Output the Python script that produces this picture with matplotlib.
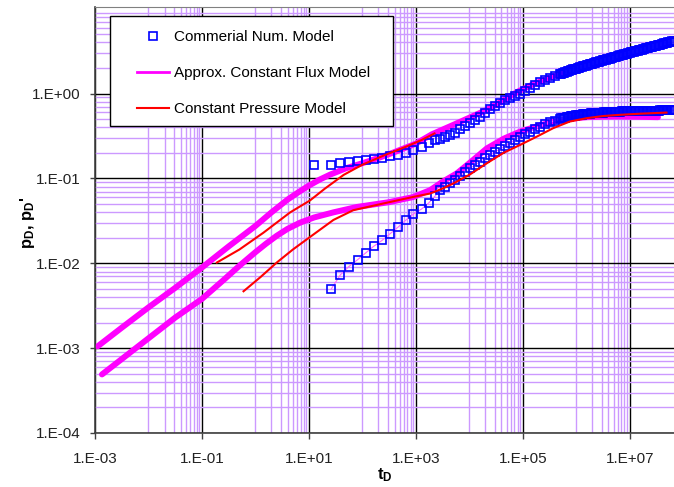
import numpy as np
import matplotlib
matplotlib.use("Agg")
import matplotlib.pyplot as plt
from matplotlib.lines import Line2D
from matplotlib.patches import Rectangle
from matplotlib.ticker import NullFormatter

plt.rcParams['font.family'] = ['Liberation Sans', 'DejaVu Sans']
plt.rcParams['mathtext.default'] = 'regular'

# commercial simulator output: pD and its derivative share the time steps
t_num = [12.6, 26.3, 38.9, 56.2, 81.3, 115, 162, 234, 331, 468,
         646, 891, 1290, 1740, 2290, 2820, 3550, 4370, 5370, 6760,
         8320, 1.02e4, 1.29e4, 1.58e4, 1.95e4, 2.45e4, 3.02e4, 3.72e4, 4.68e4, 5.75e4,
         7.08e4, 8.91e4, 1.10e5, 1.35e5, 1.70e5, 2.09e5, 2.57e5, 3.24e5, 3.98e5, 5.01e5,
         5.31e5, 5.62e5, 5.96e5, 6.31e5, 6.68e5, 7.08e5, 7.50e5, 7.94e5, 8.41e5, 8.91e5, 9.44e5,
         1.00e6, 1.06e6, 1.12e6, 1.19e6, 1.26e6, 1.33e6, 1.41e6, 1.50e6, 1.58e6, 1.68e6,
         1.78e6, 1.88e6, 2.00e6, 2.11e6, 2.24e6, 2.37e6, 2.51e6, 2.66e6, 2.82e6, 2.99e6,
         3.16e6, 3.35e6, 3.55e6, 3.76e6, 3.98e6, 4.22e6, 4.47e6, 4.73e6, 5.01e6, 5.31e6,
         5.62e6, 5.96e6, 6.31e6, 6.68e6, 7.08e6, 7.50e6, 7.94e6, 8.41e6, 8.91e6, 9.44e6,
         1.00e7, 1.06e7, 1.12e7, 1.19e7, 1.26e7, 1.33e7, 1.41e7, 1.50e7, 1.58e7, 1.68e7,
         1.78e7, 1.88e7, 2.00e7, 2.11e7, 2.24e7, 2.37e7, 2.51e7, 2.66e7, 2.82e7, 2.99e7,
         3.16e7, 3.35e7, 3.55e7, 3.76e7, 3.98e7, 4.22e7, 4.47e7, 4.73e7, 5.01e7, 5.31e7,
         5.62e7, 5.96e7, 6.31e7, 6.68e7]
pd_num = [0.143, 0.144, 0.151, 0.155, 0.159, 0.164, 0.168, 0.173, 0.182, 0.190,
          0.201, 0.216, 0.236, 0.259, 0.284, 0.295, 0.306, 0.324, 0.347, 0.380,
          0.412, 0.447, 0.490, 0.531, 0.589, 0.653, 0.708, 0.771, 0.832, 0.891,
          0.944, 1.00, 1.07, 1.16, 1.26, 1.35, 1.43, 1.51, 1.60, 1.70,
          1.720, 1.742, 1.764, 1.786, 1.809, 1.832, 1.856, 1.879, 1.903, 1.923, 1.948,
          1.972, 1.994, 2.016, 2.038, 2.061, 2.084, 2.106, 2.130, 2.153, 2.177,
          2.200, 2.225, 2.249, 2.274, 2.298, 2.324, 2.350, 2.375, 2.401, 2.428,
          2.455, 2.480, 2.506, 2.532, 2.559, 2.585, 2.612, 2.640, 2.667, 2.695,
          2.723, 2.751, 2.780, 2.809, 2.838, 2.868, 2.897, 2.928, 2.958, 2.989,
          3.020, 3.050, 3.080, 3.110, 3.141, 3.172, 3.203, 3.234, 3.266, 3.298,
          3.330, 3.363, 3.396, 3.429, 3.463, 3.497, 3.532, 3.567, 3.602, 3.637,
          3.673, 3.709, 3.745, 3.782, 3.819, 3.857, 3.894, 3.933, 3.972, 4.011,
          4.050, 4.090, 4.130, 4.171]
dpd_num = [np.nan, 0.00499, 0.00731, 0.00916, 0.0110, 0.0132, 0.0158, 0.0186, 0.0223, 0.0267,
           0.0321, 0.0378, 0.0437, 0.0513, 0.0618, 0.0724, 0.0796, 0.0873, 0.0955, 0.106,
           0.120, 0.131, 0.144, 0.157, 0.173, 0.189, 0.207, 0.220, 0.241, 0.259,
           0.284, 0.311, 0.332, 0.356, 0.383, 0.408, 0.436, 0.460, 0.481, 0.504,
           0.509, 0.513, 0.517, 0.521, 0.526, 0.530, 0.534, 0.537, 0.541, 0.545, 0.549,
           0.552, 0.555, 0.559, 0.562, 0.565, 0.568, 0.570, 0.573, 0.575, 0.578,
           0.581, 0.583, 0.585, 0.587, 0.589, 0.591, 0.593, 0.595, 0.596, 0.597,
           0.598, 0.600, 0.601, 0.603, 0.604, 0.606, 0.607, 0.609, 0.610, 0.611,
           0.611, 0.613, 0.614, 0.614, 0.615, 0.616, 0.617, 0.617, 0.618, 0.619,
           0.619, 0.620, 0.621, 0.621, 0.622, 0.623, 0.624, 0.624, 0.625, 0.626,
           0.627, 0.627, 0.627, 0.628, 0.628, 0.629, 0.630, 0.630, 0.630, 0.631,
           0.631, 0.631, 0.631, 0.632, 0.632, 0.633, 0.633, 0.634, 0.634, 0.634,
           0.634, 0.635, 0.635, 0.635]

# approximate constant flux model
t_flux_pd = [1.12e-3, 3.16e-3, 1e-2, 3.16e-2, 0.1, 0.316, 1.0, 2.0, 3.98, 6.31,
             10, 15.8, 25.1, 50.1, 100, 200, 398, 1000, 2000, 5010,
             1.0e4, 2.0e4, 3.98e4, 7.94e4, 1.58e5, 3.16e5, 5.62e5]
pd_flux = [1.05e-3, 1.74e-3, 3.02e-3, 5.13e-3, 8.9e-3, 1.58e-2, 2.75e-2, 3.98e-2, 5.62e-2, 6.84e-2,
           8.22e-2, 9.66e-2, 0.111, 0.132, 0.151, 0.174, 0.204, 0.257, 0.331, 0.427,
           0.519, 0.631, 0.804, 1.047, 1.29, 1.53, 1.78]
t_flux_dpd = [1.35e-3, 5.0e-3, 3.16e-2, 0.1, 0.251, 0.501, 1.0, 1.58, 2.51, 3.98,
              6.92, 12.6, 28.8, 79.4, 316, 891, 1860, 3160, 5890, 1.0e4,
              2.14e4, 4.47e4, 8.91e4, 2.0e5, 3.72e5, 7.94e5, 1.58e6, 3.16e6, 6.31e6, 1.58e7,
              3.39e7]
dpd_flux = [4.9e-4, 9.3e-4, 2.29e-3, 3.8e-3, 6.31e-3, 9.33e-3, 1.35e-2, 1.70e-2, 2.11e-2, 2.54e-2,
            3.02e-2, 3.47e-2, 3.98e-2, 4.61e-2, 5.25e-2, 6.03e-2, 7.28e-2, 9.12e-2, 0.115, 0.151,
            0.226, 0.295, 0.356, 0.417, 0.468, 0.507, 0.527, 0.535, 0.536, 0.532,
            0.527]

# constant pressure model
t_pres_pd = [0.19, 0.50, 1.41, 4.47, 10.5, 20.0, 44.7, 100, 251, 631, 1260, 2240]
pd_pres = [0.0102, 0.0145, 0.0229, 0.0398, 0.055, 0.0759, 0.110, 0.145, 0.186, 0.234, 0.282, 0.339]
t_pres_dpd = [0.60, 1.26, 2.51, 5.01, 10.5, 28.8, 67.6, 245, 891, 1860,
              3160, 5010, 1.0e4, 2.14e4, 4.37e4, 8.91e4, 1.82e5, 3.72e5, 7.59e5, 1.58e6,
              3.16e6, 6.46e6, 1.58e7, 4.9e7]
dpd_pres = [4.68e-3, 6.92e-3, 1.02e-2, 1.45e-2, 2.04e-2, 3.24e-2, 4.22e-2, 5.06e-2, 6.05e-2, 6.64e-2,
            7.59e-2, 8.71e-2, 0.110, 0.151, 0.200, 0.248, 0.310, 0.391, 0.468, 0.513,
            0.543, 0.561, 0.579, 0.597]

x_ticks = [1e-3, 1e-1, 1e1, 1e3, 1e5, 1e7]
x_labels = ["1.E-03", "1.E-01", "1.E+01", "1.E+03", "1.E+05", "1.E+07"]
y_ticks = [1e-4, 1e-3, 1e-2, 1e-1, 1e0]
y_labels = ["1.E-04", "1.E-03", "1.E-02", "1.E-01", "1.E+00"]

MAGENTA = "#FF00FF"
RED = "#FF0000"
BLUE = "#0000FF"
PURPLE = "#CC99FF"

fig = plt.figure(figsize=(6.74, 4.87), dpi=100)
ax = fig.add_axes([95 / 674, 54 / 487, 579 / 674, 426 / 487])
ax.set_xscale("log")
ax.set_yscale("log")

ax.plot(t_flux_pd, pd_flux, color=MAGENTA, lw=4.3, solid_capstyle="round", zorder=2)
ax.plot(t_flux_dpd, dpd_flux, color=MAGENTA, lw=4.3, solid_capstyle="round", zorder=2)
ax.plot(t_num, dpd_num, color="#FF66FF", lw=0.8, zorder=2.5)
ax.plot(t_num, pd_num, ls="none", marker="s", ms=6.0, mfc="none", mec=BLUE, mew=1.2, zorder=3)
ax.plot(t_num, dpd_num, ls="none", marker="s", ms=6.0, mfc="none", mec=BLUE, mew=1.2, zorder=3)
ax.plot(t_pres_pd, pd_pres, color=RED, lw=1.5, zorder=4)
ax.plot(t_pres_dpd, dpd_pres, color=RED, lw=1.5, zorder=4)

ax.set_xlim(1e-3, 10 ** 7.83)
ax.set_ylim(1e-4, 10 ** 1.02)

# Excel-style grid: black every major, lavender minor lines
ax.set_xticks(x_ticks)
ax.set_xticklabels(x_labels)
ax.set_yticks(y_ticks)
ax.set_yticklabels(y_labels)
x_minor = [k * 10.0 ** d for d in (-2, 0, 2, 4, 6) for k in range(1, 10)]
y_minor = [k * 10.0 ** d for d in range(-4, 1) for k in range(2, 10)]
ax.set_xticks(x_minor, minor=True)
ax.set_yticks(y_minor, minor=True)
ax.xaxis.set_minor_formatter(NullFormatter())
ax.yaxis.set_minor_formatter(NullFormatter())
ax.set_axisbelow(True)
ax.grid(which="minor", color=PURPLE, lw=1.0)
ax.grid(which="major", color="black", lw=1.0)
ax.tick_params(which="minor", length=0)
ax.tick_params(axis="y", which="major", direction="out", length=3.6, width=1,
               color="#404040", pad=7, labelsize=11, labelcolor="#222222")
ax.tick_params(axis="x", which="major", direction="out", length=4, width=1,
               color="#404040", pad=10, labelsize=11, labelcolor="#222222")

for side in ("left", "bottom"):
    ax.spines[side].set_color("#404040")
    ax.spines[side].set_linewidth(1.2)
ax.spines["top"].set_color("#808080")
ax.spines["right"].set_visible(False)

ax.set_xlabel("t$_D$", fontsize=12, fontweight="bold")
ax.set_ylabel("p$_D$, p$_D$'", fontsize=12, fontweight="bold")
ax.xaxis.set_label_coords(0.5, -0.077)
ax.yaxis.set_label_coords(-0.10, 0.493)

# legend with a square-cornered box
ax.add_patch(Rectangle((0.026, 0.721), 0.489, 0.258, transform=ax.transAxes,
                       facecolor="white", edgecolor="black", lw=1.0, zorder=5))
handles = [
    Line2D([], [], ls="none", marker="s", ms=6.0, mfc="none", mec=BLUE, mew=1.2),
    Line2D([], [], color=MAGENTA, lw=2),
    Line2D([], [], color=RED, lw=1.5),
]
labels = ["Commerial Num. Model", "Approx. Constant Flux Model", "Constant Pressure Model"]
leg = ax.legend(handles, labels, loc="upper left", bbox_to_anchor=(0.0725, 0.946),
                frameon=False, fontsize=11, borderpad=0, borderaxespad=0,
                handlelength=2.1, handletextpad=0.3, labelspacing=1.44)
leg.set_zorder(6)

fig.savefig("out.png", dpi=100)
